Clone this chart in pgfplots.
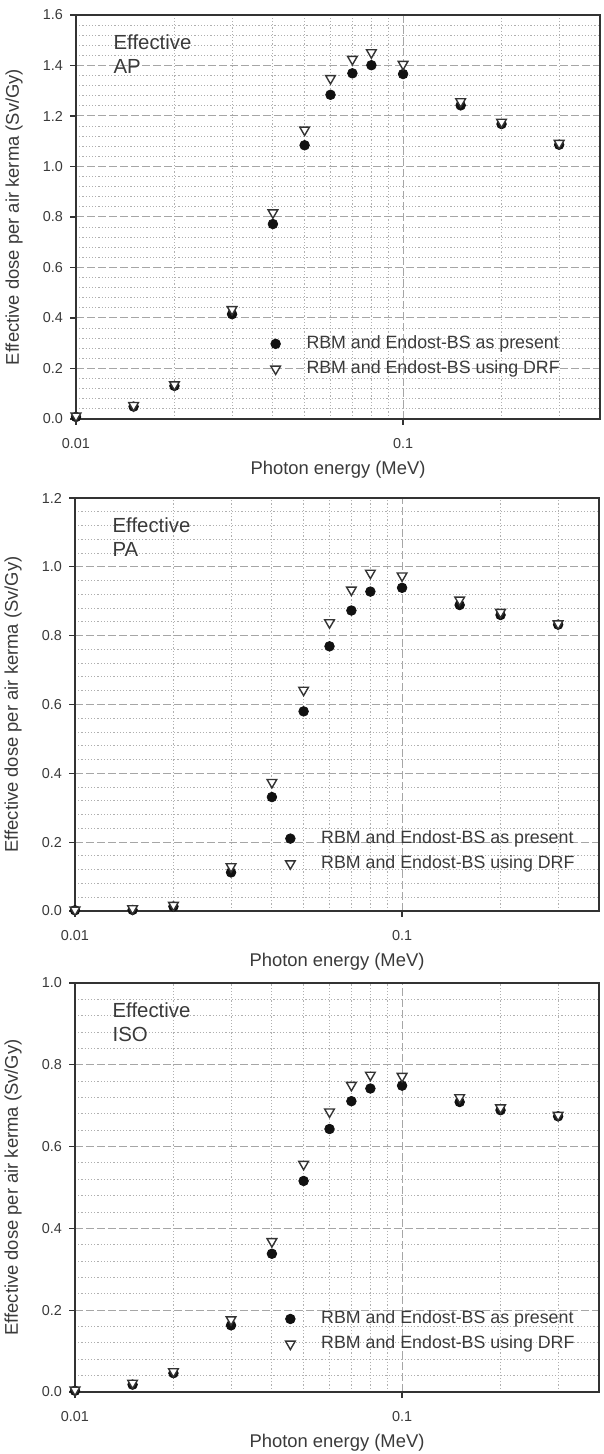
\documentclass[border=0pt]{standalone}
\usepackage{fontspec}
\setmainfont{Liberation Sans}
\usepackage{pgfplots}
\pgfplotsset{compat=1.18}

\definecolor{axisgray}{HTML}{333333}
\definecolor{textgray}{HTML}{3A3A3A}
\definecolor{majorgrid}{HTML}{A6A6A6}
\definecolor{minorgrid}{HTML}{B0B0B0}
\definecolor{markblack}{HTML}{111111}

% shared look of the three panels
\pgfplotsset{every axis/.append style={
    scale only axis,
    width=262pt,
    xmode=log,
    xmin=0.01, xmax=0.4,
    ymin=0,
    xtick={0.01,0.1},
    xticklabels={0.01,0.1},
    minor xtick={0.02,0.03,0.04,0.05,0.06,0.07,0.08,0.09,0.2,0.3},
    minor y tick num=4,
    grid=both,
    major grid style={majorgrid, line width=0.5pt, dash pattern=on 4pt off 1.5pt},
    minor grid style={minorgrid, line width=0.5pt, dash pattern=on 0.6pt off 1pt},
    axis line style={axisgray, line width=0.75pt},
    tick align=outside,
    xtick pos=bottom,
    ytick pos=left,
    major tick length=3pt,
    minor tick length=0pt,
    /pgf/number format/assume math mode=true,
    xlabel={Photon energy (MeV)},
    ylabel={Effective dose per air kerma (Sv/Gy)},
    legend cell align=left,
}}

\begin{document}
\begin{tikzpicture}
\useasboundingbox (0,0) rectangle (302pt,727pt);

% AP irradiation
\begin{axis}[at={(38pt,517.5pt)}, anchor=south west, height=202pt,
  ymax=1.6, ytick={0,0.2,...,1.6},
  every tick/.style={axisgray, line width=0.6pt},
  every tick label/.style={font=\fontsize{7.2}{8}\selectfont, text=textgray},
  xticklabel style={yshift=-3pt},
  yticklabel style={/pgf/number format/fixed, /pgf/number format/fixed zerofill,
    /pgf/number format/precision=1},
  every axis label/.style={font=\fontsize{9.2}{11}\selectfont, text=textgray},
  every axis x label/.style={at={(axis description cs:0.5,0)}, anchor=center, yshift=-25.5pt},
  every axis y label/.style={at={(axis description cs:-0.118,0.5)}, anchor=center, rotate=90},
  legend style={draw=none, fill=none, inner sep=0pt, row sep=3.5pt,
    column sep=13pt, text=textgray,
    nodes={inner sep=0pt, text height=7pt, text depth=2pt, font=\fontsize{8.9}{11}\selectfont},
    anchor=west, at={(axis description cs:0.371,0.155)}}]
\addplot[only marks, mark=*, mark size=2.4pt, mark options={fill=markblack, draw=markblack}]
  coordinates {
  (0.01,0.008) (0.015,0.049) (0.02,0.131) (0.03,0.415) (0.04,0.772)
  (0.05,1.084) (0.06,1.284) (0.07,1.369) (0.08,1.401) (0.1,1.366)
  (0.15,1.242) (0.2,1.168) (0.3,1.086)};
\addplot[only marks, mark=triangle*, mark size=2.8pt,
  mark options={rotate=180, fill=white, draw=axisgray, line width=0.7pt}]
  coordinates {
  (0.01,0.012) (0.015,0.054) (0.02,0.136) (0.03,0.434) (0.04,0.817)
  (0.05,1.145) (0.06,1.349) (0.07,1.425) (0.08,1.451) (0.1,1.405)
  (0.15,1.257) (0.2,1.176) (0.3,1.092)};
\legend{RBM and Endost-BS as present, RBM and Endost-BS using DRF}
\node[anchor=north west, align=left, inner sep=0pt, text=textgray,
  font=\fontsize{10.2}{12}\selectfont] at (rel axis cs:0.071,0.952) {Effective\\AP};
\end{axis}

% PA irradiation
\begin{axis}[at={(37.5pt,271.5pt)}, anchor=south west, height=206.5pt,
  ymax=1.2, ytick={0,0.2,...,1.2},
  every tick/.style={axisgray, line width=0.6pt},
  every tick label/.style={font=\fontsize{7.2}{8}\selectfont, text=textgray},
  xticklabel style={yshift=-3pt},
  yticklabel style={/pgf/number format/fixed, /pgf/number format/fixed zerofill,
    /pgf/number format/precision=1},
  every axis label/.style={font=\fontsize{9.2}{11}\selectfont, text=textgray},
  every axis x label/.style={at={(axis description cs:0.5,0)}, anchor=center, yshift=-25.5pt},
  every axis y label/.style={at={(axis description cs:-0.118,0.5)}, anchor=center, rotate=90},
  legend style={draw=none, fill=none, inner sep=0pt, row sep=3.5pt,
    column sep=13pt, text=textgray,
    nodes={inner sep=0pt, text height=7pt, text depth=2pt, font=\fontsize{8.9}{11}\selectfont},
    anchor=west, at={(axis description cs:0.401,0.145)}}]
\addplot[only marks, mark=*, mark size=2.4pt, mark options={fill=markblack, draw=markblack}]
  coordinates {
  (0.01,0.002) (0.015,0.003) (0.02,0.013) (0.03,0.112) (0.04,0.331)
  (0.05,0.580) (0.06,0.769) (0.07,0.873) (0.08,0.928) (0.1,0.939)
  (0.15,0.889) (0.2,0.860) (0.3,0.832)};
\addplot[only marks, mark=triangle*, mark size=2.8pt,
  mark options={rotate=180, fill=white, draw=axisgray, line width=0.7pt}]
  coordinates {
  (0.01,0.003) (0.015,0.007) (0.02,0.017) (0.03,0.129) (0.04,0.374)
  (0.05,0.642) (0.06,0.838) (0.07,0.933) (0.08,0.982) (0.1,0.974)
  (0.15,0.904) (0.2,0.868) (0.3,0.835)};
\legend{RBM and Endost-BS as present, RBM and Endost-BS using DRF}
\node[anchor=north west, align=left, inner sep=0pt, text=textgray,
  font=\fontsize{10.2}{12}\selectfont] at (rel axis cs:0.071,0.952) {Effective\\PA};
\end{axis}

% Isotropic irradiation
\begin{axis}[at={(37.5pt,31pt)}, anchor=south west, height=204.5pt,
  ymax=1.0, ytick={0,0.2,...,1.0},
  every tick/.style={axisgray, line width=0.6pt},
  every tick label/.style={font=\fontsize{7.2}{8}\selectfont, text=textgray},
  xticklabel style={yshift=-3pt},
  yticklabel style={/pgf/number format/fixed, /pgf/number format/fixed zerofill,
    /pgf/number format/precision=1},
  every axis label/.style={font=\fontsize{9.2}{11}\selectfont, text=textgray},
  every axis x label/.style={at={(axis description cs:0.5,0)}, anchor=center, yshift=-25.5pt},
  every axis y label/.style={at={(axis description cs:-0.118,0.5)}, anchor=center, rotate=90},
  legend style={draw=none, fill=none, inner sep=0pt, row sep=3.5pt,
    column sep=13pt, text=textgray,
    nodes={inner sep=0pt, text height=7pt, text depth=2pt, font=\fontsize{8.9}{11}\selectfont},
    anchor=west, at={(axis description cs:0.401,0.148)}}]
\addplot[only marks, mark=*, mark size=2.4pt, mark options={fill=markblack, draw=markblack}]
  coordinates {
  (0.01,0.003) (0.015,0.018) (0.02,0.046) (0.03,0.163) (0.04,0.338)
  (0.05,0.516) (0.06,0.643) (0.07,0.711) (0.08,0.742) (0.1,0.749)
  (0.15,0.709) (0.2,0.689) (0.3,0.674)};
\addplot[only marks, mark=triangle*, mark size=2.8pt,
  mark options={rotate=180, fill=white, draw=axisgray, line width=0.7pt}]
  coordinates {
  (0.01,0.005) (0.015,0.022) (0.02,0.050) (0.03,0.177) (0.04,0.368)
  (0.05,0.557) (0.06,0.685) (0.07,0.750) (0.08,0.775) (0.1,0.772)
  (0.15,0.720) (0.2,0.695) (0.3,0.677)};
\legend{RBM and Endost-BS as present, RBM and Endost-BS using DRF}
\node[anchor=north west, align=left, inner sep=0pt, text=textgray,
  font=\fontsize{10.2}{12}\selectfont] at (rel axis cs:0.071,0.952) {Effective\\ISO};
\end{axis}
\end{tikzpicture}
\end{document}
